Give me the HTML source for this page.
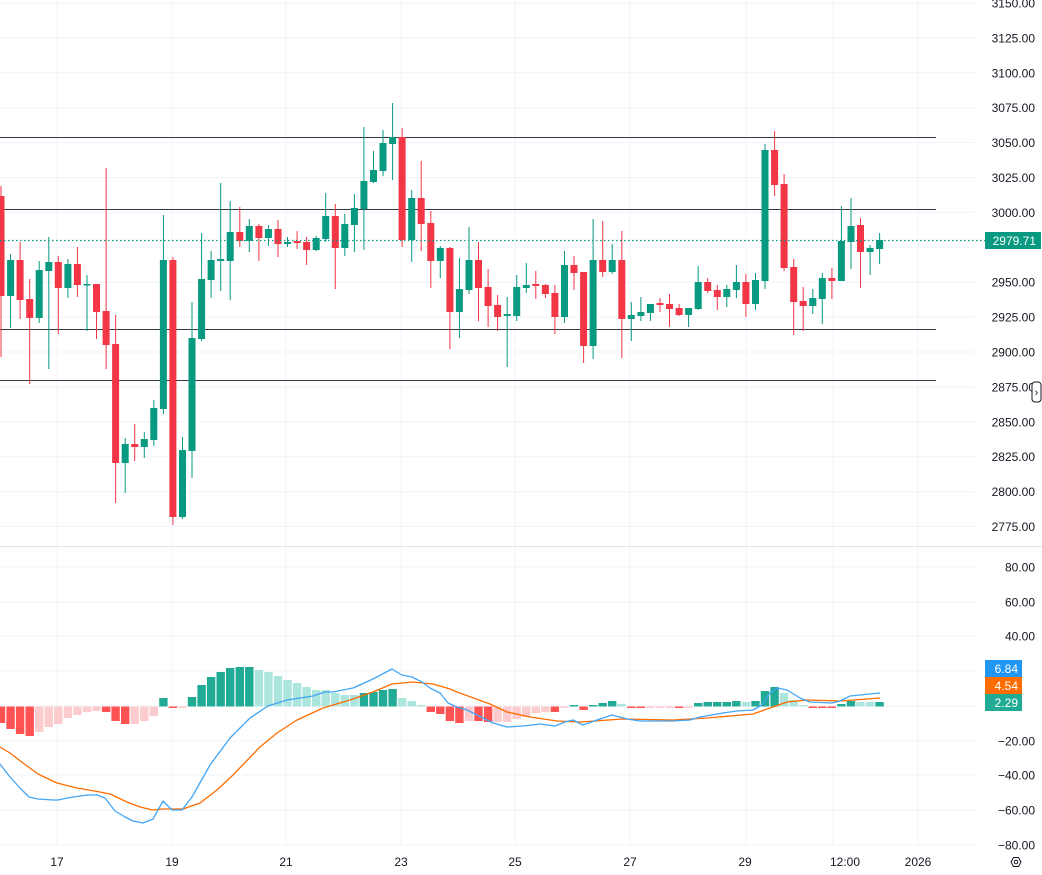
<!DOCTYPE html>
<html><head><meta charset="utf-8">
<style>
html,body{margin:0;padding:0;background:#fff;}
svg{display:block;font-family:"Liberation Sans",sans-serif;}
</style></head>
<body>
<svg id="s" width="1042" height="875" xmlns="http://www.w3.org/2000/svg"></svg>
<script>
var s=document.getElementById('s');var o='';
function L(x1,y1,x2,y2,c,w,d){o+='<line x1="'+x1+'" y1="'+y1+'" x2="'+x2+'" y2="'+y2+'" stroke="'+c+'" stroke-width="'+(w||1)+'"'+(d?' stroke-dasharray="'+d+'"':'')+'/>';}
function R(x,y,w,h,c){o+='<rect x="'+x+'" y="'+y+'" width="'+w+'" height="'+h+'" fill="'+c+'"/>';}
function T(x,y,t,c,a,sz){o+='<text x="'+x+'" y="'+y+'" fill="'+(c||'#131722')+'" font-size="'+(sz||12)+'" text-anchor="'+(a||'start')+'">'+t+'</text>';}
var G='#f0f3fa';
// horizontal grid main
var pl=['3150.00','3125.00','3100.00','3075.00','3050.00','3025.00','3000.00','2975.00','2950.00','2925.00','2900.00','2875.00','2850.00','2825.00','2800.00','2775.00'];
for(var i=0;i<16;i++){var y=3+i*34.9;L(0,y.toFixed(1),975,y.toFixed(1),G);}
// macd grid
var ml=[['80.00',567],['60.00',602],['40.00',636],['20.00',671],['0',706],['\u221220.00',741],['\u221240.00',775],['\u221260.00',810],['\u221280.00',845]];
ml.forEach(function(m){L(0,m[1],975,m[1],G);});
// vertical grid
[57,172,286,401,515,630,746,833,918].forEach(function(x){L(x,0,x,845,G);});
// separator
L(0,546.5,1042,546.5,'#e0e3eb',1);
// horizontal levels
[137,209,329,380].forEach(function(y){L(0,y+0.5,936,y+0.5,'#363a45',1);});
// candles: [top,bottom,wTop,wBot,green]
var C=[[196,296,186,357,0],[260,296,254,328,1],[260,300,242,319,0],[299,318,279,384,0],[270,318,261,323,1],[262,271,237,369,1],[262,288,256,334,0],[264,288,259,298,1],[264,285,247,297,0],[284,285,275,331,1],[284,312,284,339,0],[311,345,168,369,0],[344,463,315,503,0],[444,463,438,493,1],[444,447,424,461,0],[439,447,432,458,1],[408,440,400,446,1],[260,409,215,414,1],[260,517,257,525,0],[450,517,437,519,1],[338,451,302,478,1],[279,339,233,341,1],[260,280,251,298,1],[259,261,183,291,1],[232,261,201,300,1],[232,241,207,247,0],[226,241,219,252,1],[226,238,224,261,0],[229,238,225,246,1],[229,244,220,257,0],[242,244,237,247,1],[241,243,231,249,0],[242,250,237,265,0],[238,250,236,251,1],[216,239,193,242,1],[216,248,204,289,0],[224,248,214,256,1],[208,225,194,252,1],[181,209,127,250,1],[170,182,151,183,1],[143,171,130,176,1],[137,144,103,180,1],[137,240,128,247,0],[198,240,190,262,1],[198,224,161,251,0],[223,261,211,288,0],[248,261,246,278,1],[248,312,247,349,0],[289,312,258,338,1],[260,290,227,294,1],[260,288,242,321,0],[287,306,269,327,0],[305,317,295,331,0],[314,316,297,367,1],[287,316,275,321,1],[285,288,263,293,1],[284,286,271,299,0],[285,294,284,298,0],[293,317,285,334,0],[265,317,251,323,1],[265,273,256,290,0],[272,346,272,363,0],[260,346,219,359,1],[260,272,221,277,0],[260,272,244,274,1],[260,319,231,358,0],[315,319,302,341,1],[312,316,297,321,1],[304,313,304,321,1],[303,305,298,312,0],[304,309,294,327,0],[308,315,304,316,0],[308,315,308,327,1],[282,309,266,310,1],[282,291,278,293,0],[290,297,285,310,0],[289,297,285,307,1],[282,290,265,298,1],[282,304,274,317,0],[280,304,273,310,1],[150,281,144,289,1],[150,185,131,196,0],[184,268,174,271,0],[267,302,259,335,0],[301,306,287,331,0],[298,306,289,314,1],[278,299,273,324,1],[278,281,268,299,0],[241,281,206,281,1],[226,242,198,269,1],[225,252,218,288,0],[248,252,245,275,1],[240,249,233,264,1]];
var GR='#089981',RD='#f23645';
C.forEach(function(c,i){var x=1+9.55*i;var col=c[4]?GR:RD;
L(x.toFixed(1),c[2],x.toFixed(1),c[3],col,1);
var h=Math.max(c[1]-c[0],1.5);R((x-3.5).toFixed(1),c[0],7,h,col);});
// current price dotted
L(0,240.5,985,240.5,GR,1.2,'1.5 2.5');
// MACD histogram: [y, type] type:0 green,1 light,2 red,3 pink
var Hh=[[723,2],[729,2],[734,2],[736,2],[732,3],[727,3],[724,3],[718,3],[715,3],[712,3],[711,3],[712,2],[721,2],[724,2],[724,3],[721,3],[716,3],[698,0],[708,2],[708,3],[697,0],[685,0],[677,0],[672,0],[668,0],[667,0],[667,0],[670,1],[672,1],[676,1],[680,1],[683,1],[687,1],[690,1],[690,1],[693,1],[695,1],[695,1],[693,0],[692,0],[690,0],[689,0],[698,1],[701,1],[705,1],[712,2],[714,2],[721,2],[723,2],[721,3],[721,2],[722,2],[722,3],[722,3],[719,3],[717,3],[713,3],[712,3],[712,2],[708,3],[705,0],[710,2],[705,0],[703,0],[701,0],[704,1],[707,2],[708,2],[707,3],[707,3],[707,3],[707,2],[707,3],[703,0],[702,0],[702,0],[702,0],[701,0],[702,1],[701,0],[691,0],[687,0],[693,1],[700,1],[705,1],[708,2],[708,2],[708,2],[704,0],[701,0],[702,1],[702,1],[702,0]];
var HC=['#22ab94','#ace5dc','#ff5252','#fccbcd'];
var Z=706.5;
Hh.forEach(function(b,i){var x=1+9.55*i;var y=b[0];var top=Math.min(y,Z),h=Math.max(Math.abs(y-Z),1.5);R((x-4.2).toFixed(1),top.toFixed(1),8.4,h.toFixed(1),HC[b[1]]);});
function P(pts,col){o+='<polyline fill="none" stroke="'+col+'" stroke-width="1.3" stroke-linejoin="round" points="'+pts.map(function(p){return p.join(',')}).join(' ')+'"/>';}
P([[0,747],[10,753],[23,763],[38,774],[57,783],[77,788],[100,792],[110,794],[127,802],[140,807],[153,810],[163,809],[183,809],[200,803],[217,790],[233,775],[260,747],[277,733],[297,720],[323,708],[350,700],[373,692],[392,684],[413,682],[433,684],[450,689],[457,692],[490,704],[507,712],[530,717],[557,721],[580,722],[623,719],[673,720],[707,718],[753,714],[773,707],[787,702],[807,700],[840,701],[880,698]],'#ff6d00');
P([[0,764],[10,777],[20,788],[29,797],[38,799],[53,800],[58,800],[67,798],[87,795],[97,795],[105,798],[115,811],[125,817],[133,821],[143,823],[153,819],[163,801],[172,810],[182,810],[192,797],[210,765],[230,738],[250,718],[268,706],[287,700],[300,698],[313,696],[325,692],[333,692],[353,688],[373,679],[392,669],[402,675],[412,677],[422,682],[430,688],[440,693],[448,703],[457,707],[467,710],[483,718],[493,723],[507,727],[523,726],[540,724],[555,726],[565,722],[573,720],[583,725],[597,720],[612,715],[627,719],[640,721],[673,721],[690,720],[700,717],[723,713],[737,711],[753,710],[762,705],[770,693],[777,688],[787,690],[800,698],[810,702],[832,703],[840,701],[850,696],[880,693]],'#42a5f5');
// price axis labels
for(var i=0;i<16;i++){var y=3+i*34.9;if(i==7)continue;T(1035,(y+4.5).toFixed(1),pl[i],'#131722','end');}
ml.forEach(function(m){if(m[0]=='20.00'||m[0]=='0')return;T(1035,m[1]+4.5,m[0],'#131722','end');});
// current price label
R(985,232,56,17,GR);T(1036,245,'2979.71','#fff','end');
// macd labels
R(985,660,37,17,'#2196f3');T(1018,673,'6.84','#fff','end');
R(985,677,37,17,'#ff6d00');T(1018,690,'4.54','#fff','end');
R(985,694,37,17,'#22ab94');T(1018,707,'2.29','#fff','end');
// time axis
[['17',57],['19',172],['21',286],['23',401],['25',515],['27',630],['29',745],['12:00',845],['2026',918]].forEach(function(t){T(t[1],866,t[0],'#131722','middle');});
// icons
o+='<rect x="1032" y="382" width="9" height="20" rx="3" fill="#fff" stroke="#131722" stroke-width="1"/>';
T(1036.5,396,'\u203A','#131722','middle',11);
o+='<polygon points="1011,862 1013.5,857.5 1018.5,857.5 1021,862 1018.5,866.5 1013.5,866.5" fill="none" stroke="#131722" stroke-width="1"/><circle cx="1016" cy="862" r="1.8" fill="none" stroke="#131722"/>';
s.innerHTML=o;
</script>
</body></html>
